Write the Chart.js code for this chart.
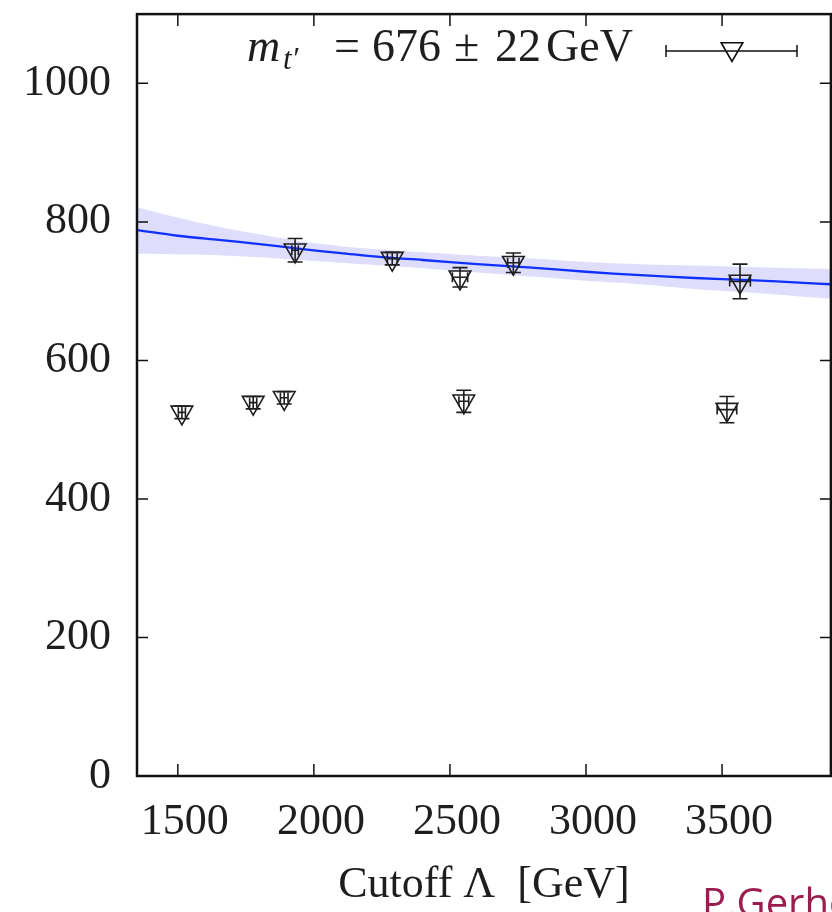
<!DOCTYPE html>
<html>
<head>
<meta charset="utf-8">
<script src="https://cdn.jsdelivr.net/npm/chart.js@4/dist/chart.umd.min.js"></script>
<style>
  html, body { margin: 0; padding: 0; background: #fff; overflow: hidden; width: 832px; height: 912px; }
  #wrap { position: absolute; left: 0; top: 0; width: 845px; height: 912px; }
  #author { position: absolute; left: 702px; top: 882px; font-family: "Open Sans", sans-serif; font-size: 40px; line-height: 40px; color: #9b1d4f; white-space: nowrap; }
</style>
</head>
<body>
<div id="wrap"><canvas id="plot" width="845" height="912"></canvas></div>
<div id="author">P.Gerhold</div>
<script>
// measured points, upper branch (on the fit)
var lambdaHigh = [1931, 2288, 2537, 2733, 3566];
var massHigh = [759, 747, 720, 741, 714];
var massHighErr = [17, 9, 14, 14, 25];
var lambdaHighErr = [12, 18, 28, 21, 38];

// measured points, lower branch
var lambdaLow = [1515, 1777, 1891, 2551, 3518];
var massLow = [525, 539, 546, 541, 529];
var massLowErr = [9, 9, 9, 16, 19];
var lambdaLowErr = [13, 13, 14, 18, 36];

// fit curve and its error band
var fitLambda = [1350, 1500, 1650, 1800, 1950, 2100, 2250, 2400, 2600, 2800, 3000, 3200, 3400, 3600, 3800, 3900];
var fitMass = [788, 780, 774, 768, 761, 755, 749, 745, 739, 734, 728, 723, 719, 716, 712, 710];
var fitUpper = [821, 806, 793, 782, 772, 765, 760, 756, 751, 747, 742, 739, 737, 735, 733, 732];
var fitLower = [754, 753, 752, 749, 745, 741, 737, 733, 727, 721, 715, 710, 703, 698, 692, 689];

var xTicks = [1500, 2000, 2500, 3000, 3500];
var yTicks = [0, 200, 400, 600, 800, 1000];
var legendMass = "676";
var legendErr = "22";

var serif = "'Liberation Serif', 'DejaVu Serif', serif";
var ink = '#1e1e1e';

//turn two arrays into {x, y} points
function toPoints(xs, ys)
{
    var out = [];
    for(var i = 0; i < xs.length; i++)
    {
        out.push({x: xs[i], y: ys[i]});
    }
    return out;
}

//downward open triangle, same shape chart.js uses for points
function triangle(ctx, x, y, r)
{
    ctx.beginPath();
    for(var k = 0; k < 3; k++)
    {
        var a = Math.PI + k * 2 * Math.PI / 3;
        var px = x + Math.sin(a) * r;
        var py = y - Math.cos(a) * r;
        if(k === 0) ctx.moveTo(px, py); else ctx.lineTo(px, py);
    }
    ctx.closePath();
    ctx.stroke();
}

//error bars for the point datasets
var errorBars = {
    id: 'errorBars',
    afterDatasetsDraw: function(chart)
    {
        var ctx = chart.ctx;
        var xs = chart.scales.x, ys = chart.scales.y;
        ctx.save();
        ctx.strokeStyle = ink;
        ctx.lineWidth = 1.6;
        chart.data.datasets.forEach(function(ds)
        {
            if(!ds.yErr) return;
            for(var i = 0; i < ds.data.length; i++)
            {
                var px = xs.getPixelForValue(ds.data[i].x);
                var py = ys.getPixelForValue(ds.data[i].y);
                var y0 = ys.getPixelForValue(ds.data[i].y - ds.yErr[i]);
                var y1 = ys.getPixelForValue(ds.data[i].y + ds.yErr[i]);
                var x0 = xs.getPixelForValue(ds.data[i].x - ds.xErr[i]);
                var x1 = xs.getPixelForValue(ds.data[i].x + ds.xErr[i]);
                ctx.beginPath();
                ctx.moveTo(px, y0); ctx.lineTo(px, y1);
                ctx.moveTo(px - 7.5, y0); ctx.lineTo(px + 7.5, y0);
                ctx.moveTo(px - 7.5, y1); ctx.lineTo(px + 7.5, y1);
                ctx.moveTo(x0, py); ctx.lineTo(x1, py);
                ctx.moveTo(x0, py - 5); ctx.lineTo(x0, py + 5);
                ctx.moveTo(x1, py - 5); ctx.lineTo(x1, py + 5);
                ctx.stroke();
            }
        });
        ctx.restore();
    }
};

//frame with inward ticks on all sides, plus the key at the top
var frame = {
    id: 'frame',
    afterDraw: function(chart)
    {
        var ctx = chart.ctx, area = chart.chartArea;
        var xs = chart.scales.x, ys = chart.scales.y;
        ctx.save();
        ctx.strokeStyle = '#111';
        ctx.lineWidth = 1.5;
        ctx.beginPath();
        xs.ticks.forEach(function(t)
        {
            var px = xs.getPixelForValue(t.value);
            ctx.moveTo(px, area.bottom); ctx.lineTo(px, area.bottom - 12);
            ctx.moveTo(px, area.top); ctx.lineTo(px, area.top + 12);
        });
        ys.ticks.forEach(function(t)
        {
            var py = ys.getPixelForValue(t.value);
            ctx.moveTo(area.left, py); ctx.lineTo(area.left + 11, py);
            ctx.moveTo(area.right, py); ctx.lineTo(area.right - 11, py);
        });
        ctx.stroke();
        ctx.lineWidth = 2.5;
        ctx.strokeRect(area.left, area.top, area.right - area.left, area.bottom - area.top);

        // key: m_{t'} = 676 +- 22 GeV, laid out piece by piece like the TeX label
        var base = 61;
        ctx.fillStyle = ink;
        ctx.textBaseline = 'alphabetic';
        ctx.font = 'italic 46px ' + serif;
        ctx.fillText('m', 247, base);
        ctx.font = 'italic 31px ' + serif;
        ctx.fillText('t\u2032', 283, base + 8);
        ctx.font = '46px ' + serif;
        ctx.fillText('=', 334, base);
        ctx.fillText(legendMass, 372, base);
        ctx.fillText('\u00b1', 454, base);
        ctx.fillText(legendErr, 495, base);
        ctx.fillText('GeV', 546, base);

        ctx.lineWidth = 1.5;
        ctx.beginPath();
        ctx.moveTo(666, 51); ctx.lineTo(797, 51);
        ctx.moveTo(666, 45); ctx.lineTo(666, 57);
        ctx.moveTo(797, 45); ctx.lineTo(797, 57);
        ctx.stroke();
        ctx.lineWidth = 1.6;
        triangle(ctx, 732, 49, 12.5);
        ctx.restore();
    }
};

var pointStyle = {
    showLine: false,
    pointStyle: 'triangle',
    pointRotation: 180,
    pointRadius: 12.5,
    pointBorderWidth: 1.6,
    pointBorderColor: ink,
    pointBackgroundColor: 'rgba(0,0,0,0)'
};

var chart = new Chart(document.getElementById('plot'), {
    type: 'scatter',
    data: {
        datasets: [
            Object.assign({ data: toPoints(lambdaHigh, massHigh), yErr: massHighErr, xErr: lambdaHighErr }, pointStyle),
            Object.assign({ data: toPoints(lambdaLow, massLow), yErr: massLowErr, xErr: lambdaLowErr }, pointStyle),
            {
                data: toPoints(fitLambda, fitMass),
                showLine: true, borderColor: '#0f30ff', borderWidth: 2.3,
                pointRadius: 0, tension: 0.3
            },
            {
                data: toPoints(fitLambda, fitUpper),
                showLine: true, borderWidth: 0, borderColor: 'rgba(0,0,0,0)',
                backgroundColor: 'rgba(222,222,252,1)', fill: '+1',
                pointRadius: 0, tension: 0.3
            },
            {
                data: toPoints(fitLambda, fitLower),
                showLine: true, borderWidth: 0, borderColor: 'rgba(0,0,0,0)',
                pointRadius: 0, tension: 0.3
            }
        ]
    },
    options: {
        responsive: false,
        animation: false,
        events: [],
        layout: { padding: { top: 12, right: 7, left: 0, bottom: 0 } },
        plugins: { legend: { display: false }, tooltip: { enabled: false } },
        scales: {
            x: {
                type: 'linear', min: 1350, max: 3900,
                grid: { display: false, drawTicks: false },
                border: { display: false },
                afterFit: function(s) { s.height = 136; s.paddingLeft = 0; s.paddingRight = 0; },
                afterBuildTicks: function(s) { s.ticks = xTicks.map(function(v) { return {value: v}; }); },
                ticks: { padding: 20, labelOffset: 7, color: ink, font: { family: serif, size: 44 }, callback: function(v) { return String(v); } },
                title: { display: true, text: 'Cutoff \u039b  [GeV]', color: ink, padding: { top: 0, bottom: 0 }, font: { family: serif, size: 44 } }
            },
            y: {
                type: 'linear', min: 0, max: 1100,
                grid: { display: false, drawTicks: false },
                border: { display: false },
                afterFit: function(s) { s.width = 137; s.paddingTop = 0; s.paddingBottom = 0; },
                afterBuildTicks: function(s) { s.ticks = yTicks.map(function(v) { return {value: v}; }); },
                ticks: { padding: 26, color: ink, font: { family: serif, size: 44 }, callback: function(v) { return String(v); } }
            }
        }
    },
    plugins: [errorBars, frame]
});
</script>
</body>
</html>
